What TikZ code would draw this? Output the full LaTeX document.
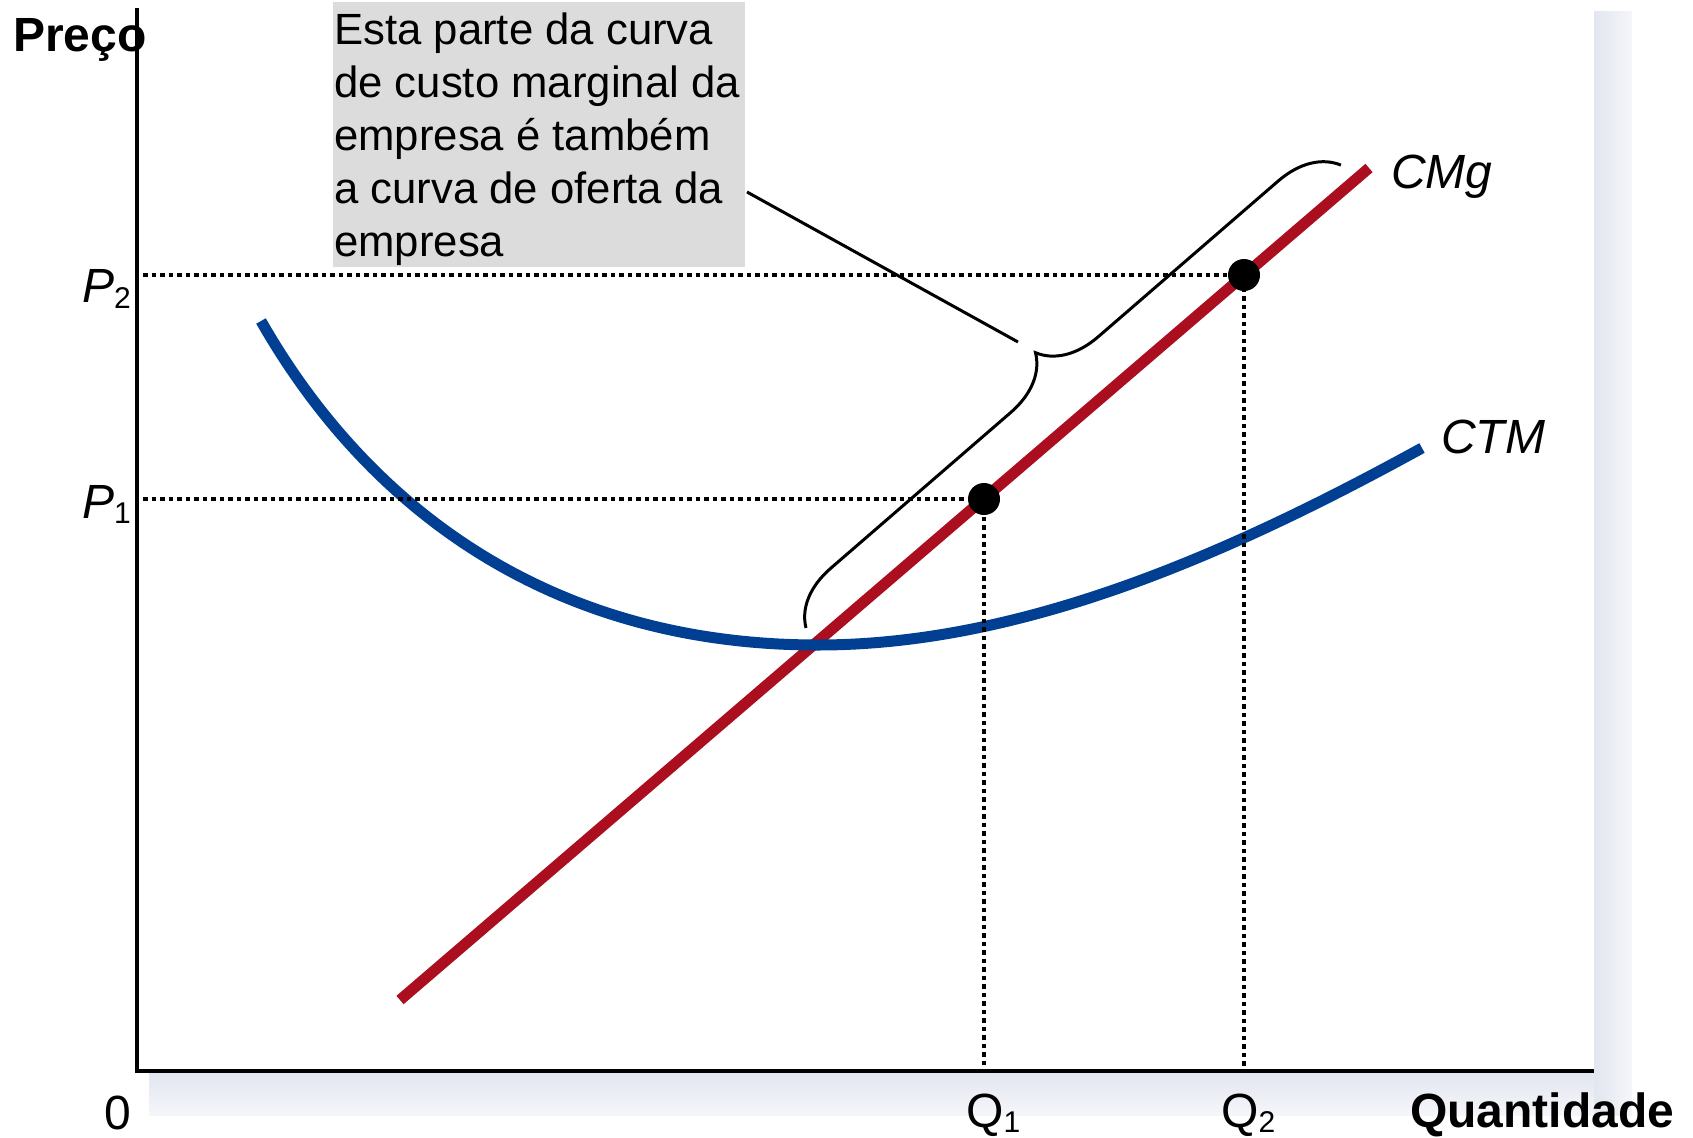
\documentclass[tikz,border=0pt]{standalone}
\usepackage{fontspec}
\setmainfont{Liberation Sans}
\usetikzlibrary{decorations.pathreplacing}
\definecolor{cmgred}{RGB}{171,14,30}
\definecolor{ctmblue}{RGB}{0,63,146}
\definecolor{boxgray}{RGB}{220,220,220}
\definecolor{shadowA}{RGB}{226,230,239}
\definecolor{shadowB}{RGB}{245,246,250}
\newcommand\fsbig{\fontsize{48}{58}\selectfont}
\newcommand\fssub{\fontsize{30}{32}\selectfont}
\begin{document}
\begin{tikzpicture}[x=1pt,y=-1pt,
  axisline/.style={line width=3.8pt, black, line join=miter},
  guide/.style={line width=3.5pt, black, dash pattern=on 4.5pt off 4pt},
  mcline/.style={line width=11pt, cmgred},
  atcline/.style={line width=11pt, ctmblue},
  eqpoint/.style={circle, fill=black, inner sep=0pt, minimum size=32pt},
  lbl/.style={inner sep=0pt, anchor=base west, font=\fsbig},
  ilbl/.style={lbl, font=\fsbig\itshape},
  blbl/.style={lbl, font=\fsbig\bfseries},
  bracestyle/.style={line width=3pt, black, decorate, decoration={brace, amplitude=58pt}},
  pointer/.style={line width=3pt, black}
]
\useasboundingbox (0,0) rectangle (1693,1137);
% shadow bands
\shade[left color=shadowA, right color=shadowB] (1594,12) rectangle (1632,1115);
\shade[top color=shadowA, bottom color=shadowB] (149,1073) rectangle (1594,1115);

% annotation box
\node[fill=boxgray, anchor=north west, minimum width=412pt, minimum height=265pt, inner sep=0pt] (box) at (333,2) {};
\node[anchor=north west, inner sep=0pt, align=left, font=\fontsize{43.7}{53}\selectfont] (boxtext) at (334,12.3)
  {Esta parte da curva\\de custo marginal da\\empresa é também\\a curva de oferta da\\empresa};

% axes
\coordinate (ytop) at (137,8);
\coordinate (O) at (137,1071);
\coordinate (xend) at (1594,1071);
\draw[axisline] (ytop) -- (O) -- (xend);

% curves
\coordinate (cmgA) at (400,1000);
\coordinate (cmgB) at (1369,168);
\draw[mcline] (cmgA) -- (cmgB);
\coordinate (ctmA) at (261,321);
\coordinate (ctmMin) at (818,645);
\coordinate (ctmB) at (1422,448);
\draw[atcline] (ctmA) .. controls (362,498) and (540,645) .. (ctmMin)
                      .. controls (1018,645) and (1222,558) .. (ctmB);

% brace and pointer
\coordinate (brA) at (806,628);
\coordinate (brB) at (1341,165);
\draw[bracestyle] (brA) -- (brB);
\coordinate (ptrA) at (747,192);
\coordinate (ptrB) at (1018,342);
\draw[pointer] (ptrA) -- (ptrB);

% points and guides
\coordinate (e1) at (984,499);
\coordinate (e2) at (1244,275);
\coordinate (p1) at (143,499);
\coordinate (p2) at (143,275);
\draw[guide] (p1) -- (e1) -- (e1 |- O);
\draw[guide] (p2) -- (e2) -- (e2 |- O);
\node[eqpoint] (d1) at (e1) {};
\node[eqpoint] (d2) at (e2) {};

% labels
\node[blbl] (preco) at (13,52) {Preço};
\node[lbl] (lp2) at (82,302) {\itshape P\raisebox{-6pt}{\fssub\upshape 2}};
\node[lbl] (lp1) at (82,518) {\itshape P\raisebox{-5pt}{\fssub\upshape 1}};
\node[lbl] (lq1) at (966,1127) {Q\raisebox{-5pt}{\fssub 1}};
\node[lbl] (lq2) at (1221,1127) {Q\raisebox{-5pt}{\fssub 2}};
\node[lbl] (zero) at (104,1129) {0};
\node[blbl] (quant) at (1410,1127) {Quantidade};
\node[ilbl] (lcmg) at (1391,188) {CMg};
\node[ilbl] (lctm) at (1441,453) {CTM};
\end{tikzpicture}
\end{document}
